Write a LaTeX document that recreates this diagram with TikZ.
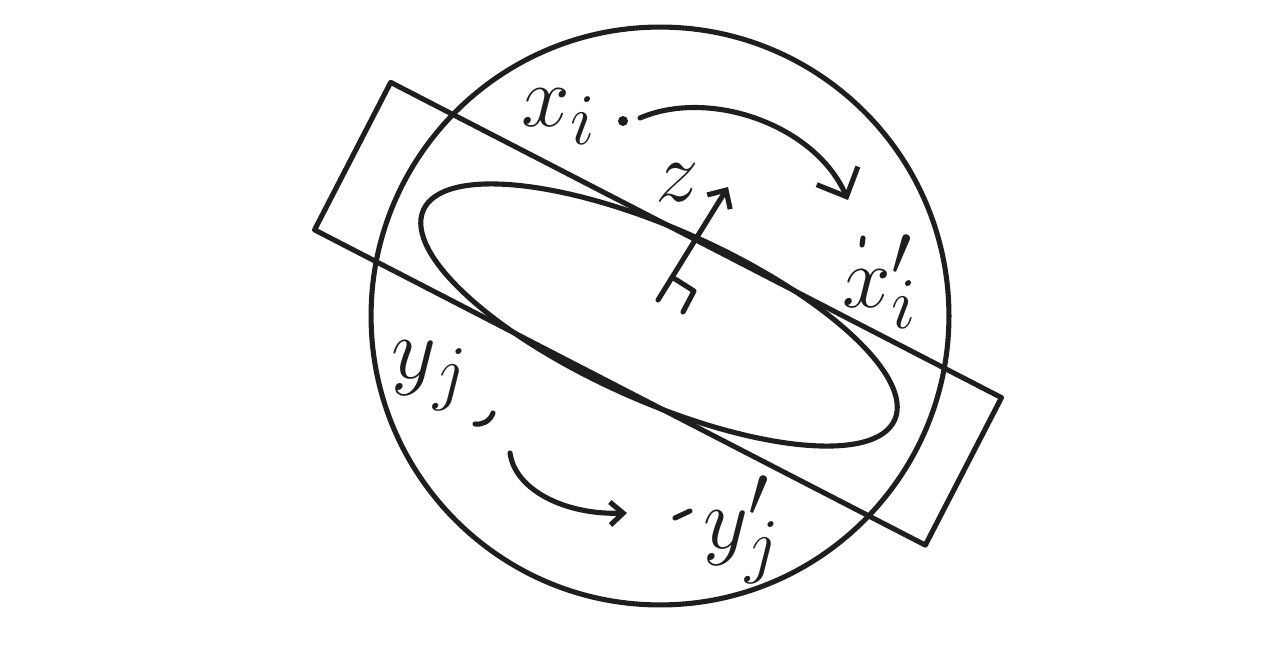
\documentclass[tikz,border=0pt]{standalone}
\usetikzlibrary{arrows.meta,shapes.geometric}
\definecolor{inkc}{HTML}{1E1E1E}
\begin{document}
\begin{tikzpicture}[x=0.02cm,y=-0.02cm,
  line width=2.9pt, line cap=round, line join=round, draw=inkc,
  shapeline/.style={draw=inkc, line width=2.9pt, inner sep=0pt, outer sep=0pt},
  lbl/.style={font=\Huge, scale=2, text=inkc, inner sep=0pt},
  bigbarb/.style={-{Straight Barb[length=0.46cm,width=0.9cm]}},
  midbarb/.style={-{Straight Barb[length=0.28cm,width=0.54cm]}},
  smallbarb/.style={-{Straight Barb[length=0.26cm,width=0.46cm]}}]
\path[use as bounding box, fill=white] (0,0) rectangle (1280,662);

% outer circle
\node (globe) [shapeline, circle, minimum size=11.56cm] at (660,316) {};
% rotated rectangle
\node (slab) [shapeline, rectangle, rotate=-27.3, minimum width=13.75cm, minimum height=3.32cm] at (658,313.75) {};
% tilted ellipse
\node (disc) [shapeline, ellipse, rotate=-24, minimum width=10.32cm, minimum height=3.44cm] at (659,315) {};

% labels
\node (xi)  [lbl] at (559,117) {$x_i$};
\node (xip) [lbl] at (880,282) {$x'_i$};
\node (zl)  [lbl] at (677,183) {$z$};
\node (yj)  [lbl] at (430,376) {$y_j$};
\node (yjp) [lbl] at (742,530) {$y'_j$};

% point marks
\fill[inkc] (623,121) circle (0.1cm);
\draw (863,238) -- (862,245);
\draw (475,424) .. controls (483,425) and (490,421) .. (493,413);
\draw (675,518) -- (690,511);

% arrow x_i -> x'_i
\coordinate (xs) at (640,118);
\coordinate (xe) at (848,200);
\draw[bigbarb] (xs) .. controls (710,88) and (815,125) .. (xe);

% arrow y_j -> y'_j
\coordinate (ys) at (510,453);
\coordinate (ye) at (627,513);
\draw[smallbarb] (ys) .. controls (515,490) and (565,515) .. (ye);

% normal z
\coordinate (zb) at (658,300);
\coordinate (zt) at (728,187);
\draw[midbarb] (zb) -- (zt);
\draw (675,279) -- (694,291) -- (683,312);
\end{tikzpicture}
\end{document}
